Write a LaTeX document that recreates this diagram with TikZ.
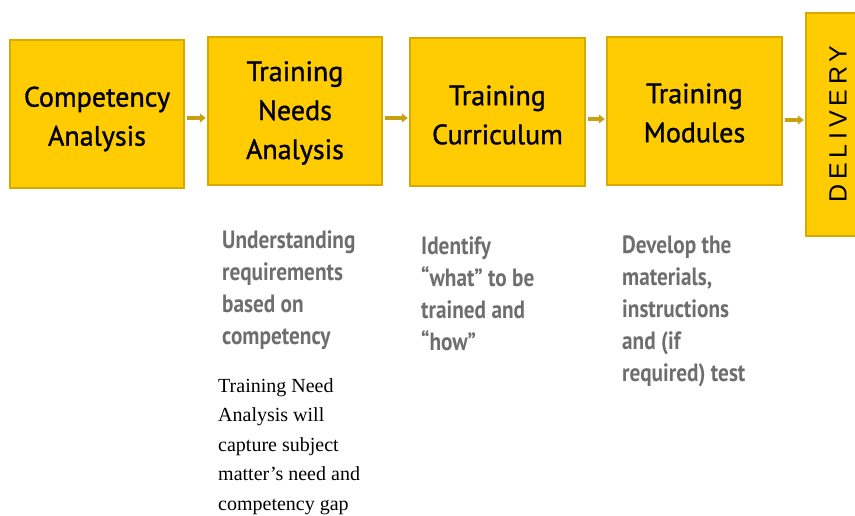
\documentclass[tikz,border=0pt]{standalone}
\usepackage{fontspec}
\setmainfont{Liberation Serif}
\newfontfamily\boxfont[FakeBold=1.2]{PT Sans}
\newfontfamily\condfont[FakeStretch=0.85]{PT Sans Bold}
\newfontfamily\delfont[LetterSpace=19]{Liberation Sans}
\usetikzlibrary{arrows.meta}
\definecolor{gold}{HTML}{FECC00}
\definecolor{goldline}{HTML}{D8AA00}
\definecolor{arrowgold}{HTML}{C8A010}
\definecolor{descgray}{HTML}{6E6E6E}
\tikzset{
  stagebox/.style={draw=goldline, line width=2.5pt, fill=gold, inner sep=0pt},
  stagetext/.style={font=\boxfont\fontsize{28}{39}\selectfont, align=center, text=black},
  flow/.style={draw=arrowgold, line width=4pt, -{Triangle[length=6pt,width=9pt]}},
  desc/.style={font=\condfont\fontsize{25}{32}\selectfont, text=descgray, align=left, anchor=north west, inner sep=0pt},
  note/.style={font=\fontsize{20}{29.5}\selectfont, text=black, align=left, anchor=north west, inner sep=0pt}
}
\begin{document}
\begin{tikzpicture}[x=1pt,y=-1pt]
\useasboundingbox (0,0) rectangle (855,516);
\begin{scope}
\clip (0,0) rectangle (855,516);
% boxes
\node[stagebox, minimum width=174pt, minimum height=148pt] (ca) at (97,114) {};
\node[stagebox, minimum width=174pt, minimum height=148pt] (tna) at (295,111) {};
\node[stagebox, minimum width=175pt, minimum height=148pt] (tc) at (497.5,112) {};
\node[stagebox, minimum width=175pt, minimum height=148pt] (tm) at (694.5,111) {};
\node[stagebox, minimum width=56pt, minimum height=223pt] (del) at (834,124.5) {};
% texts
\node[stagetext] (cat) at (97,119) {Competency\\Analysis};
\node[stagetext] (tnat) at (295,113) {Training\\Needs\\Analysis};
\node[stagetext] (tct) at (497.5,115) {Training\\Curriculum};
\node[stagetext] (tmt) at (694.5,113) {Training\\Modules};
\node[rotate=90, font=\delfont\fontsize{25}{30}\selectfont, text=black] (delt) at (838,124) {DELIVERY};
% arrows
\coordinate (a1s) at (ca.east |- 0,118);
\coordinate (a1e) at (tna.west |- 0,118);
\coordinate (a2s) at (tna.east |- 0,118);
\coordinate (a2e) at (tc.west |- 0,118);
\coordinate (a3s) at (tc.east |- 0,119);
\coordinate (a3e) at (tm.west |- 0,119);
\coordinate (a4s) at (tm.east |- 0,120);
\coordinate (a4e) at (del.west |- 0,120);
\draw[flow] ([xshift=1.5pt]a1s) -- ([xshift=-1pt]a1e);
\draw[flow] ([xshift=1.5pt]a2s) -- ([xshift=-1pt]a2e);
\draw[flow] ([xshift=1.5pt]a3s) -- ([xshift=-1pt]a3e);
\draw[flow] ([xshift=1.5pt]a4s) -- ([xshift=-1pt]a4e);
\end{scope}
% descriptions
\node[desc] (d1) at (222,231) {Understanding\\requirements\\based on\\competency};
\node[desc] (d2) at (421,237) {Identify\\“what” to be\\trained and\\“how”};
\node[desc] (d3) at (622,236) {Develop the\\materials,\\instructions\\and (if\\required) test};
\node[note] (n1) at (218,378) {Training Need\\Analysis will\\capture subject\\matter’s need and\\competency gap};
\end{tikzpicture}
\end{document}
